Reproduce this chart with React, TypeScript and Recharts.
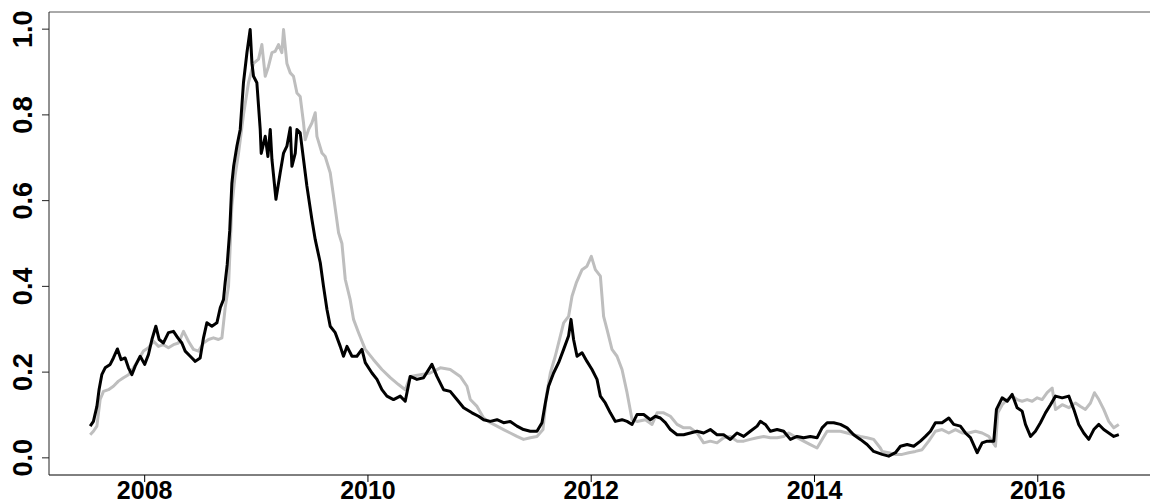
import React from 'react';
import { LineChart, Line, XAxis, YAxis, ReferenceLine } from 'recharts';

// decimal years + normalised values
const blackYears = [
  2007.512, 2007.541, 2007.572, 2007.592, 2007.616, 2007.646, 2007.691, 2007.72, 2007.756, 2007.789,
  2007.825, 2007.855, 2007.885, 2007.915, 2007.96, 2008.0, 2008.034, 2008.065, 2008.1, 2008.13,
  2008.168, 2008.213, 2008.258, 2008.297, 2008.333, 2008.363, 2008.408, 2008.453, 2008.497, 2008.527,
  2008.557, 2008.602, 2008.647, 2008.677, 2008.706, 2008.721, 2008.739, 2008.762, 2008.781, 2008.797,
  2008.826, 2008.856, 2008.885, 2008.916, 2008.945, 2008.961, 2008.975, 2009.005, 2009.035, 2009.044,
  2009.08, 2009.104, 2009.125, 2009.14, 2009.176, 2009.214, 2009.244, 2009.274, 2009.304, 2009.319,
  2009.349, 2009.364, 2009.393, 2009.423, 2009.453, 2009.498, 2009.528, 2009.573, 2009.602, 2009.633,
  2009.662, 2009.707, 2009.752, 2009.781, 2009.812, 2009.857, 2009.901, 2009.946, 2009.976, 2010.036,
  2010.081, 2010.125, 2010.17, 2010.229, 2010.289, 2010.334, 2010.379, 2010.439, 2010.498, 2010.573,
  2010.618, 2010.677, 2010.737, 2010.797, 2010.857, 2010.932, 2010.991, 2011.036, 2011.096, 2011.156,
  2011.215, 2011.275, 2011.335, 2011.394, 2011.454, 2011.514, 2011.559, 2011.589, 2011.618, 2011.663,
  2011.708, 2011.753, 2011.797, 2011.819, 2011.842, 2011.873, 2011.918, 2011.962, 2012.007, 2012.052,
  2012.082, 2012.126, 2012.171, 2012.216, 2012.276, 2012.321, 2012.366, 2012.41, 2012.47, 2012.53,
  2012.574, 2012.619, 2012.664, 2012.709, 2012.769, 2012.828, 2012.888, 2012.948, 2013.007, 2013.067,
  2013.127, 2013.186, 2013.246, 2013.306, 2013.366, 2013.425, 2013.486, 2013.515, 2013.56, 2013.605,
  2013.665, 2013.724, 2013.784, 2013.844, 2013.903, 2013.963, 2014.023, 2014.068, 2014.113, 2014.172,
  2014.232, 2014.292, 2014.351, 2014.411, 2014.471, 2014.53, 2014.606, 2014.665, 2014.725, 2014.77,
  2014.83, 2014.889, 2014.949, 2014.994, 2015.039, 2015.083, 2015.143, 2015.203, 2015.247, 2015.307,
  2015.352, 2015.397, 2015.457, 2015.502, 2015.547, 2015.606, 2015.63, 2015.681, 2015.726, 2015.771,
  2015.815, 2015.86, 2015.89, 2015.935, 2015.979, 2016.024, 2016.069, 2016.114, 2016.159, 2016.219,
  2016.278, 2016.323, 2016.367, 2016.412, 2016.457, 2016.502, 2016.547, 2016.591, 2016.636, 2016.681,
  2016.726,
];
const blackValues = [
  0.074, 0.085, 0.12, 0.16, 0.194, 0.21, 0.218, 0.233, 0.254, 0.229,
  0.233, 0.21, 0.194, 0.214, 0.237, 0.218, 0.241, 0.276, 0.307, 0.276,
  0.268, 0.292, 0.295, 0.28, 0.268, 0.249, 0.237, 0.225, 0.233, 0.28,
  0.315, 0.307, 0.315, 0.35, 0.369, 0.409, 0.45, 0.53, 0.64, 0.68,
  0.727, 0.766, 0.875, 0.945, 0.999, 0.92, 0.89, 0.875, 0.766, 0.71,
  0.75, 0.703, 0.766, 0.696, 0.603, 0.665, 0.711, 0.727, 0.77, 0.68,
  0.711, 0.766, 0.758, 0.696, 0.634, 0.556, 0.509, 0.455, 0.4, 0.346,
  0.307, 0.292, 0.26, 0.237, 0.26, 0.237, 0.237, 0.253, 0.222, 0.198,
  0.183, 0.159, 0.144, 0.136, 0.144, 0.132, 0.19, 0.183, 0.187, 0.218,
  0.19, 0.159, 0.155, 0.136, 0.117, 0.105, 0.097, 0.089, 0.085, 0.089,
  0.082, 0.085, 0.074, 0.066, 0.062, 0.062, 0.082, 0.128, 0.167, 0.198,
  0.222, 0.253, 0.284, 0.323, 0.276, 0.237, 0.245, 0.225, 0.206, 0.183,
  0.144, 0.128, 0.105, 0.085, 0.089, 0.085, 0.078, 0.101, 0.101, 0.089,
  0.097, 0.093, 0.082, 0.066, 0.054, 0.054, 0.058, 0.062, 0.058, 0.066,
  0.054, 0.054, 0.043, 0.058, 0.05, 0.062, 0.074, 0.085, 0.078, 0.062,
  0.066, 0.062, 0.043, 0.05, 0.047, 0.05, 0.047, 0.07, 0.082, 0.082,
  0.078, 0.07, 0.054, 0.043, 0.031, 0.015, 0.008, 0.004, 0.012, 0.027,
  0.031, 0.027, 0.039, 0.05, 0.062, 0.082, 0.082, 0.093, 0.078, 0.074,
  0.058, 0.047, 0.012, 0.035, 0.039, 0.039, 0.113, 0.14, 0.132, 0.148,
  0.117, 0.109, 0.078, 0.05, 0.062, 0.082, 0.105, 0.124, 0.144, 0.14,
  0.144, 0.113, 0.078, 0.058, 0.043, 0.066, 0.078, 0.066, 0.058, 0.05,
  0.054,
];

const grayYears = [
  2007.512, 2007.541, 2007.572, 2007.601, 2007.631, 2007.676, 2007.72, 2007.765, 2007.81, 2007.855,
  2007.9, 2007.944, 2007.989, 2008.034, 2008.079, 2008.124, 2008.168, 2008.213, 2008.258, 2008.303,
  2008.348, 2008.392, 2008.437, 2008.482, 2008.527, 2008.572, 2008.616, 2008.661, 2008.692, 2008.721,
  2008.751, 2008.781, 2008.811, 2008.841, 2008.885, 2008.93, 2008.975, 2009.02, 2009.05, 2009.08,
  2009.109, 2009.14, 2009.169, 2009.199, 2009.229, 2009.244, 2009.274, 2009.304, 2009.333, 2009.364,
  2009.393, 2009.423, 2009.438, 2009.468, 2009.498, 2009.528, 2009.543, 2009.588, 2009.617, 2009.662,
  2009.692, 2009.737, 2009.767, 2009.797, 2009.841, 2009.871, 2009.916, 2009.976, 2010.05, 2010.125,
  2010.2, 2010.274, 2010.334, 2010.379, 2010.469, 2010.558, 2010.648, 2010.737, 2010.827, 2010.887,
  2010.917, 2010.977, 2011.036, 2011.096, 2011.156, 2011.215, 2011.275, 2011.335, 2011.394, 2011.454,
  2011.514, 2011.568, 2011.598, 2011.634, 2011.678, 2011.708, 2011.753, 2011.797, 2011.828, 2011.866,
  2011.918, 2011.962, 2012.001, 2012.037, 2012.082, 2012.111, 2012.142, 2012.186, 2012.231, 2012.276,
  2012.321, 2012.366, 2012.41, 2012.485, 2012.545, 2012.59, 2012.649, 2012.709, 2012.769, 2012.828,
  2012.888, 2012.948, 2013.007, 2013.067, 2013.127, 2013.186, 2013.246, 2013.306, 2013.366, 2013.425,
  2013.486, 2013.545, 2013.605, 2013.665, 2013.724, 2013.769, 2013.844, 2013.903, 2013.963, 2014.023,
  2014.068, 2014.113, 2014.172, 2014.232, 2014.292, 2014.351, 2014.411, 2014.471, 2014.53, 2014.59,
  2014.606, 2014.665, 2014.725, 2014.785, 2014.844, 2014.904, 2014.964, 2015.023, 2015.083, 2015.143,
  2015.203, 2015.263, 2015.323, 2015.382, 2015.442, 2015.502, 2015.561, 2015.621, 2015.642, 2015.681,
  2015.726, 2015.771, 2015.815, 2015.86, 2015.905, 2015.95, 2015.995, 2016.039, 2016.084, 2016.129,
  2016.159, 2016.219, 2016.278, 2016.338, 2016.383, 2016.427, 2016.472, 2016.508, 2016.547, 2016.591,
  2016.636, 2016.681, 2016.726,
];
const grayValues = [
  0.054, 0.062, 0.074, 0.136, 0.155, 0.159, 0.167, 0.179, 0.187, 0.194,
  0.21, 0.229, 0.249, 0.257, 0.272, 0.26, 0.264, 0.257, 0.264, 0.268,
  0.295, 0.272, 0.253, 0.249, 0.268, 0.276, 0.28, 0.276, 0.28, 0.35,
  0.4, 0.587, 0.66, 0.711, 0.8, 0.875, 0.92, 0.93, 0.964, 0.89,
  0.913, 0.945, 0.948, 0.964, 0.945, 0.999, 0.92, 0.898, 0.89, 0.851,
  0.843, 0.781, 0.742, 0.766, 0.781, 0.805, 0.75, 0.711, 0.703, 0.665,
  0.61, 0.525, 0.5, 0.416, 0.369, 0.323, 0.292, 0.253, 0.229, 0.206,
  0.187, 0.171, 0.159, 0.19, 0.194, 0.198, 0.21, 0.206, 0.19, 0.167,
  0.136, 0.12, 0.093, 0.082, 0.074, 0.066, 0.058, 0.05, 0.043, 0.047,
  0.05, 0.066, 0.144, 0.198, 0.237, 0.268, 0.315, 0.33, 0.377, 0.408,
  0.439, 0.447, 0.47, 0.439, 0.424, 0.33, 0.299, 0.253, 0.237, 0.206,
  0.152, 0.089, 0.085, 0.089, 0.078, 0.105, 0.105, 0.097, 0.078, 0.07,
  0.07, 0.058, 0.035, 0.039, 0.035, 0.047, 0.05, 0.039, 0.039, 0.043,
  0.047, 0.05, 0.047, 0.047, 0.05, 0.058, 0.047, 0.039, 0.031, 0.023,
  0.043, 0.062, 0.062, 0.062, 0.058, 0.054, 0.05, 0.047, 0.043, 0.023,
  0.015, 0.012, 0.008, 0.008, 0.012, 0.015, 0.019, 0.039, 0.062, 0.066,
  0.058, 0.066, 0.058, 0.058, 0.062, 0.058, 0.05, 0.027, 0.105, 0.124,
  0.136, 0.144, 0.136, 0.132, 0.136, 0.132, 0.14, 0.136, 0.152, 0.163,
  0.113, 0.124, 0.117, 0.128, 0.12, 0.113, 0.128, 0.152, 0.136, 0.113,
  0.085, 0.07, 0.078,
];

const xTicks = [2008, 2010, 2012, 2014, 2016];
const yTicks = [0, 0.2, 0.4, 0.6, 0.8, 1.0];

const blackData = blackYears.map((t, i) => ({ t, v: blackValues[i] }));
const grayData = grayYears.map((t, i) => ({ t, v: grayValues[i] }));

const FONT = '"Liberation Sans", Arial, Helvetica, sans-serif';

// rotated y labels, like R's default las=0
const YTick = ({ x, y, payload }: any) => (
  <text
    transform={`translate(${x - 8}, ${y}) rotate(-90)`}
    textAnchor="middle"
    fontFamily={FONT}
    fontWeight="bold"
    fontSize={27}
    fill="#000"
  >
    {Number(payload.value).toFixed(1)}
  </text>
);

const XTick = ({ x, y, payload }: any) => (
  <text
    x={x}
    y={y + 15}
    textAnchor="middle"
    fontFamily={FONT}
    fontWeight="bold"
    fontSize={25}
    fill="#000"
  >
    {payload.value}
  </text>
);

export default function App() {
  return (
    <div
      style={{
        position: 'fixed',
        left: 0,
        top: 0,
        width: 1150,
        height: 504,
        overflow: 'hidden',
        background: '#fff',
      }}
    >
      {/* plot region runs past the right edge of the window, as in the original */}
      <LineChart width={1150} height={504} margin={{ top: 12, right: -10, left: 0, bottom: 0 }}>
        <XAxis
          dataKey="t"
          type="number"
          domain={[2007.143, 2017.095]}
          ticks={xTicks}
          allowDataOverflow
          height={29}
          tickSize={7}
          tickMargin={2}
          stroke="#000"
          tick={<XTick />}
        />
        <YAxis
          type="number"
          domain={[-0.04, 1.04]}
          ticks={yTicks}
          allowDataOverflow
          width={49}
          tickSize={7}
          tickMargin={2}
          stroke="#222"
          tick={<YTick />}
        />
        {/* top side of the box */}
        <ReferenceLine y={1.04} stroke="#555" />
        <Line
          data={grayData}
          dataKey="v"
          stroke="#bebebe"
          strokeWidth={3}
          strokeLinejoin="round"
          dot={false}
          isAnimationActive={false}
        />
        <Line
          data={blackData}
          dataKey="v"
          stroke="#000"
          strokeWidth={3}
          strokeLinejoin="round"
          dot={false}
          isAnimationActive={false}
        />
      </LineChart>
    </div>
  );
}
